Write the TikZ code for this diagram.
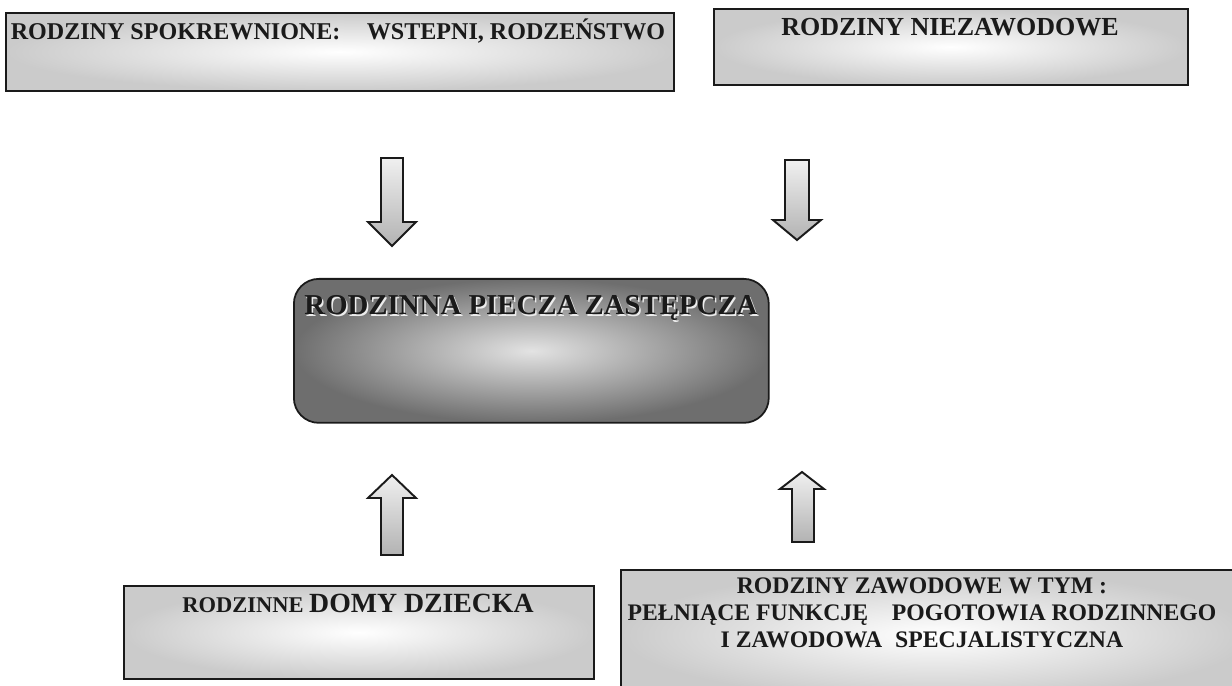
\documentclass[tikz,border=0pt]{standalone}
\usepackage{fontspec}
\setmainfont{Liberation Serif}
\usetikzlibrary{positioning}
\definecolor{boxGrey}{HTML}{CBCBCB}
\definecolor{coreGrey}{HTML}{6E6E6E}
\definecolor{ink}{HTML}{1A1A1A}

\begin{document}
\begin{tikzpicture}[x=0.02cm,y=-0.02cm,
  famblock/.style={draw=ink,line width=1pt,inner color=white,outer color=boxGrey,anchor=north west,inner sep=0pt},
  coreblock/.style={draw=ink,line width=1pt,rounded corners=0.5cm,inner color=gray!22,outer color=coreGrey,anchor=north west,inner sep=0pt},
  blockarrow/.style={draw=ink,line width=1.1pt,top color=gray!12,bottom color=gray!60},
  famtext/.style={text=ink,inner sep=0pt,anchor=base}]
\useasboundingbox (0,0) rectangle (1232,686);
% upper families
\node[famblock,minimum width=13.36cm,minimum height=1.56cm] (spok) at (5,12) {};
\node[famtext,font=\bfseries\fontsize{13.7}{14}\selectfont] (spokT) at (338,40) {RODZINY SPOKREWNIONE:\hspace{1.1em}WSTEPNI, RODZEŃSTWO};
\node[famblock,minimum width=9.48cm,minimum height=1.52cm] (niez) at (713,8) {};
\node[famtext,font=\bfseries\fontsize{14.8}{15}\selectfont] (niezT) at (950,36) {RODZINY NIEZAWODOWE};
% core
\node[coreblock,minimum width=9.5cm,minimum height=2.88cm] (piecza) at (293,278) {};
\node[famtext,text=white!85!gray,font=\bfseries\fontsize{16.4}{17}\selectfont] at (532.5,316.5) {RODZINNA PIECZA ZASTĘPCZA};
\node[famtext,font=\bfseries\fontsize{16.4}{17}\selectfont] (pieczaT) at (531,315) {RODZINNA PIECZA ZASTĘPCZA};
% lower families
\node[famblock,minimum width=9.4cm,minimum height=1.86cm] (domy) at (123,585) {};
\node[famtext,font=\bfseries] (domyT) at (358,612) {\fontsize{12.8}{13}\selectfont RODZINNE {\fontsize{15.8}{16}\selectfont DOMY DZIECKA}};
\node[famblock,minimum width=12.6cm,minimum height=2.6cm] (zaw) at (620,569) {};
\node[famtext,anchor=north,align=center,font=\bfseries\fontsize{13.5}{15.6}\selectfont] (zawT) at (922,577)
  {RODZINY ZAWODOWE W TYM :\\ PEŁNIĄCE FUNKCJĘ\hspace{1em}POGOTOWIA RODZINNEGO\\ I ZAWODOWA\hspace{0.55em}SPECJALISTYCZNA};
% arrows
\draw[blockarrow] (381,158) -- (403,158) -- (403,222) -- (416,222) -- (392,246) -- (368,222) -- (381,222) -- cycle;
\draw[blockarrow] (785,160) -- (809,160) -- (809,220) -- (821,220) -- (797,240) -- (773,220) -- (785,220) -- cycle;
\draw[blockarrow] (381,555) -- (403,555) -- (403,498) -- (416,498) -- (392,475) -- (368,498) -- (381,498) -- cycle;
\draw[blockarrow] (792,542) -- (814,542) -- (814,489) -- (824,489) -- (802,472) -- (780,489) -- (792,489) -- cycle;
\end{tikzpicture}
\end{document}
